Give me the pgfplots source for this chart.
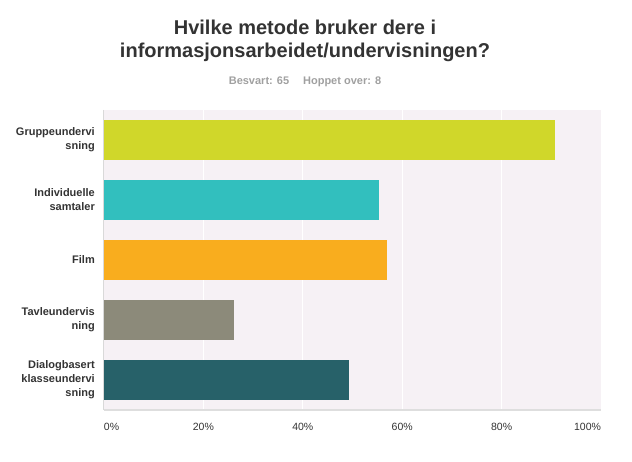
\documentclass[border=0pt]{standalone}
\usepackage{pgfplots}
\pgfplotsset{compat=1.18}
\usepackage{fontspec}
\setmainfont{Liberation Sans}
\definecolor{bgcol}{HTML}{F6F1F5}
\definecolor{txt}{HTML}{333333}
\definecolor{subt}{HTML}{A0A0A0}
\definecolor{cA}{HTML}{D0D72A}
\definecolor{cB}{HTML}{32BFBE}
\definecolor{cC}{HTML}{F9AD1E}
\definecolor{cD}{HTML}{8C8A7A}
\definecolor{cE}{HTML}{276169}
\begin{document}
\begin{tikzpicture}
\path[use as bounding box] (0pt,0pt) rectangle (632pt,462pt);
\node[anchor=base, text=txt, font=\fontsize{20}{23}\selectfont\bfseries, inner sep=0pt] at (305pt,427pt) {Hvilke metode bruker dere i};
\node[anchor=base, text=txt, font=\fontsize{20}{23}\selectfont\bfseries, inner sep=0pt] at (305pt,404pt) {informasjonsarbeidet/undervisningen?};
\node[anchor=base, text=subt, font=\fontsize{11}{13}\selectfont\bfseries, inner sep=0pt] at (305pt,377pt) {Besvart: 65\hspace{14pt}Hoppet over: 8};
\begin{axis}[
  at={(104pt,52pt)}, anchor=south west,
  scale only axis, width=497pt, height=300pt,
  xmin=0, xmax=100, ymin=-0.5, ymax=4.5,
  y dir=reverse,
  axis background/.style={fill=bgcol},
  axis x line*=bottom, axis y line*=left,
  x axis line style={draw=black!13, line width=2pt},
  y axis line style={draw=black!15, line width=1pt},
  xtick={0,20,40,60,80,100},
  xticklabels={\makebox[0pt][l]{0\%},20\%,40\%,60\%,80\%,\makebox[0pt][r]{100\%}},
  xticklabel style={font=\fontsize{10.5}{12}\selectfont, text=txt, anchor=north, inner sep=0pt, yshift=-13pt},
  ytick={0,1,2,3,4},
  yticklabels={{Gruppeundervi\\sning},{Individuelle\\samtaler},Film,{Tavleundervis\\ning},{Dialogbasert\\klasseundervi\\sning}},
  yticklabel style={font=\fontsize{11}{14}\selectfont\bfseries, text=txt, align=right, anchor=east, inner sep=0pt, xshift=-9pt},
  major tick length=0pt,
  xmajorgrids, grid style={draw=white, line width=1pt},
  xbar, bar width=40pt, bar shift=0pt,
]
\addplot[fill=cA, draw=none] coordinates {(90.77,0)};
\addplot[fill=cB, draw=none] coordinates {(55.38,1)};
\addplot[fill=cC, draw=none] coordinates {(56.92,2)};
\addplot[fill=cD, draw=none] coordinates {(26.15,3)};
\addplot[fill=cE, draw=none] coordinates {(49.23,4)};
\end{axis}
\end{tikzpicture}
\end{document}
